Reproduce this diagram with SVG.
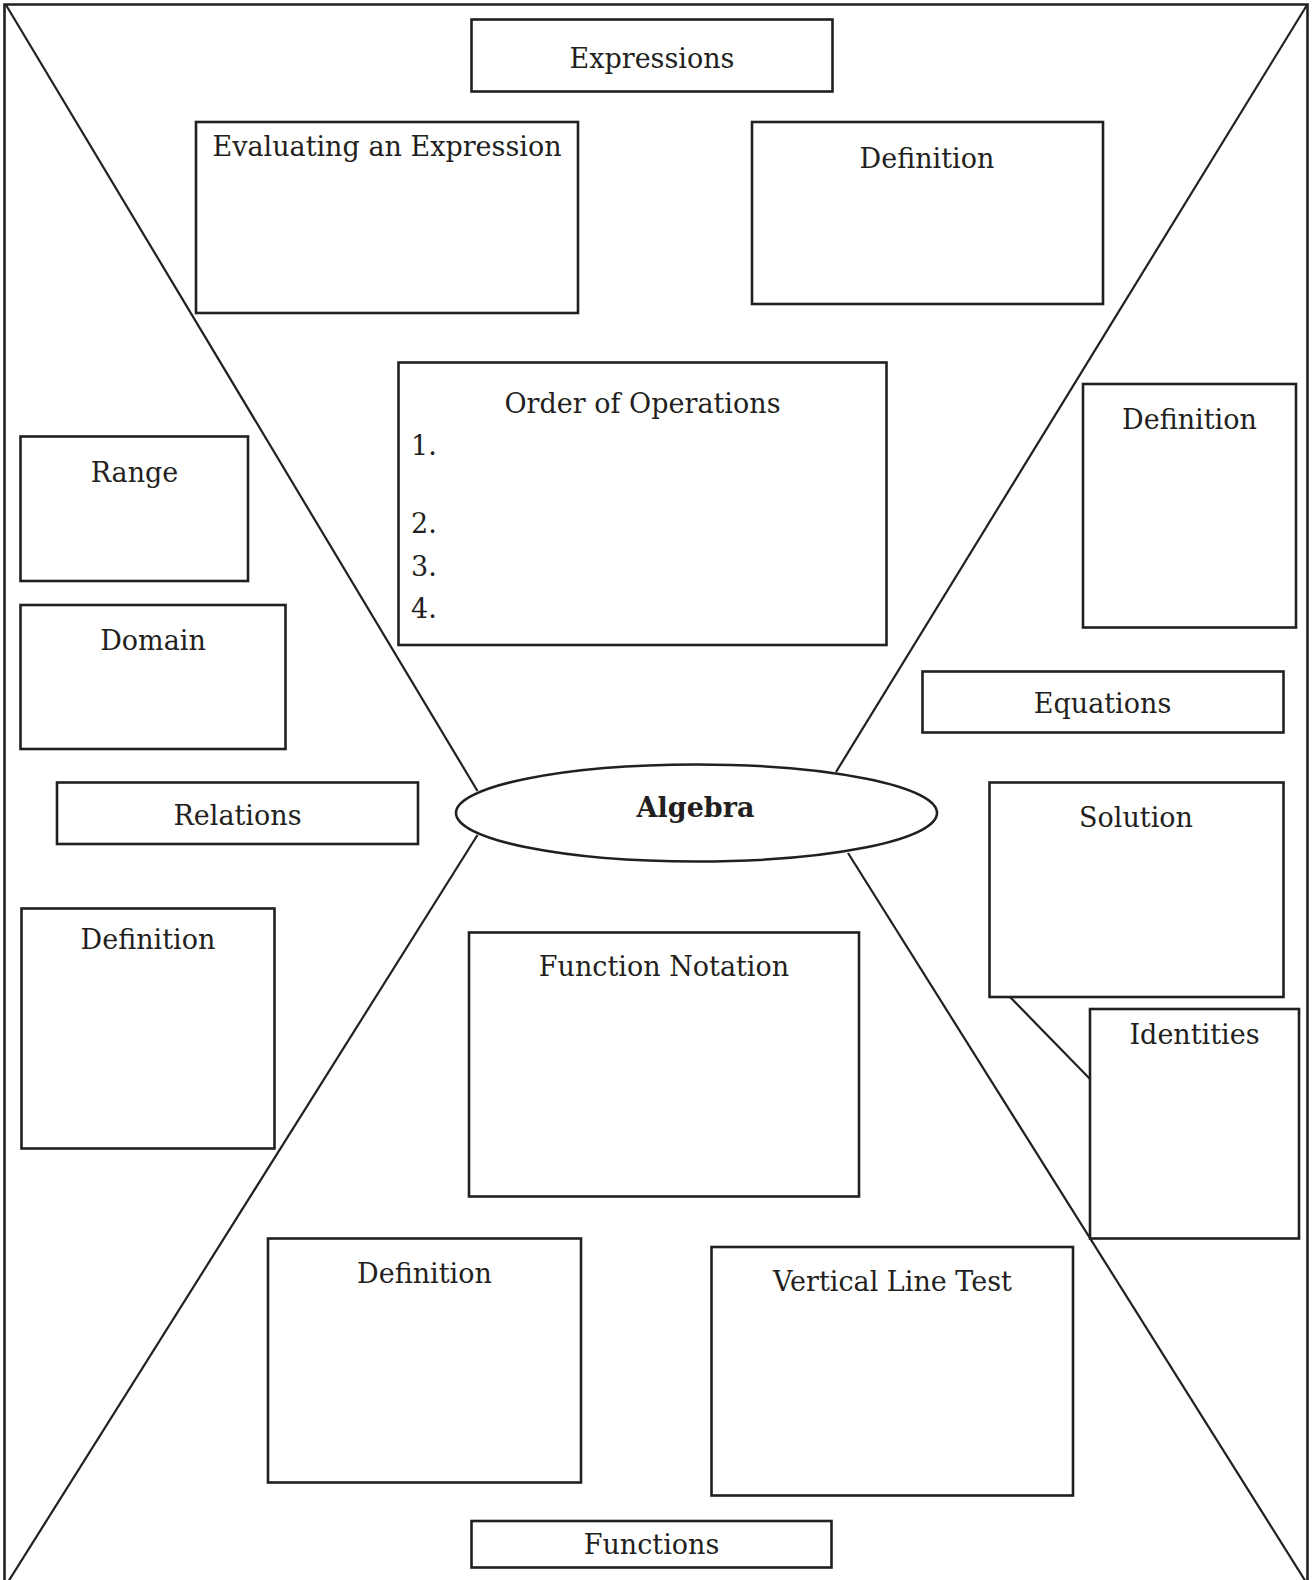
<svg xmlns="http://www.w3.org/2000/svg" width="1314" height="1580" viewBox="0 0 1314 1580">
  <style>
    .box { fill: #ffffff; stroke: #231f20; stroke-width: 2.6; }
    .hub { fill: #ffffff; stroke: #231f20; stroke-width: 2.6; }
    .link { fill: none; stroke: #231f20; stroke-width: 2.2; }
    .frame { fill: none; stroke: #231f20; stroke-width: 2.6; }
    .lbl { font-family: "DejaVu Serif", "Liberation Serif", serif; font-size: 27px; fill: #231f20; }
    .mid { text-anchor: middle; }
    .bold { font-weight: bold; }
  </style>

  <rect x="0" y="0" width="1314" height="1580" fill="#ffffff"/>

  <!-- page frame (open at the bottom edge) -->
  <path class="frame" d="M4.5,1582 V4.5 H1307.5 V1582"/>

  <!-- spokes from the hub out to the page corners -->
  <g id="connectors">
    <line class="link" x1="6" y1="5" x2="477.5" y2="791"/>
    <line class="link" x1="1307" y1="5" x2="836" y2="772"/>
    <line class="link" x1="477.5" y1="835" x2="8" y2="1582"/>
    <line class="link" x1="848" y1="853" x2="1306" y2="1582"/>
    <line class="link" x1="1010" y1="997" x2="1090" y2="1079"/>
  </g>

  <g id="expressions">
    <rect class="box" x="471.5" y="19.5" width="361" height="72"/>
    <text class="lbl mid" x="652" y="67.5">Expressions</text>
  </g>

  <g id="evaluating">
    <rect class="box" x="196" y="122" width="382" height="191"/>
    <text class="lbl mid" x="387" y="156">Evaluating an Expression</text>
  </g>

  <g id="expr-definition">
    <rect class="box" x="752" y="122" width="351" height="182"/>
    <text class="lbl mid" x="927" y="167.5">Definition</text>
  </g>

  <g id="order-of-operations">
    <rect class="box" x="398.5" y="362.5" width="488" height="282.5"/>
    <text class="lbl mid" x="642.5" y="413">Order of Operations</text>
    <text class="lbl" x="411" y="455">1.</text>
    <text class="lbl" x="411" y="532.5">2.</text>
    <text class="lbl" x="411" y="575.5">3.</text>
    <text class="lbl" x="411" y="617.5">4.</text>
  </g>

  <g id="range">
    <rect class="box" x="20.5" y="436.5" width="227.5" height="144.5"/>
    <text class="lbl mid" x="134.5" y="481.5">Range</text>
  </g>

  <g id="domain">
    <rect class="box" x="20.5" y="605" width="265" height="144"/>
    <text class="lbl mid" x="153" y="649.5">Domain</text>
  </g>

  <g id="eq-definition">
    <rect class="box" x="1083" y="384" width="213" height="243.5"/>
    <text class="lbl mid" x="1189.5" y="429">Definition</text>
  </g>

  <g id="equations">
    <rect class="box" x="922.5" y="671.5" width="361" height="61"/>
    <text class="lbl mid" x="1102.5" y="712.5">Equations</text>
  </g>

  <g id="algebra">
    <ellipse class="hub" cx="696.5" cy="813" rx="240.5" ry="48.5"/>
    <text class="lbl mid bold" x="695.5" y="816.5">Algebra</text>
  </g>

  <g id="relations">
    <rect class="box" x="57" y="782.5" width="361" height="61.5"/>
    <text class="lbl mid" x="237.5" y="824.5">Relations</text>
  </g>

  <g id="solution">
    <rect class="box" x="989.5" y="782.5" width="294" height="214.5"/>
    <text class="lbl mid" x="1136" y="826.5">Solution</text>
  </g>

  <g id="identities">
    <rect class="box" x="1090" y="1009" width="209" height="229.5"/>
    <text class="lbl mid" x="1194.5" y="1043.5">Identities</text>
  </g>

  <g id="rel-definition">
    <rect class="box" x="21.5" y="908.5" width="253" height="240"/>
    <text class="lbl mid" x="148" y="948.5">Definition</text>
  </g>

  <g id="function-notation">
    <rect class="box" x="469" y="932.5" width="390" height="264"/>
    <text class="lbl mid" x="664" y="976">Function Notation</text>
  </g>

  <g id="fn-definition">
    <rect class="box" x="268" y="1238.5" width="313" height="244"/>
    <text class="lbl mid" x="424.5" y="1282.5">Definition</text>
  </g>

  <g id="vertical-line-test">
    <rect class="box" x="711.5" y="1247" width="361.5" height="248.5"/>
    <text class="lbl mid" x="892.5" y="1290.5">Vertical Line Test</text>
  </g>

  <g id="functions">
    <rect class="box" x="471.5" y="1521" width="360" height="46.5"/>
    <text class="lbl mid" x="651.5" y="1554">Functions</text>
  </g>
</svg>
